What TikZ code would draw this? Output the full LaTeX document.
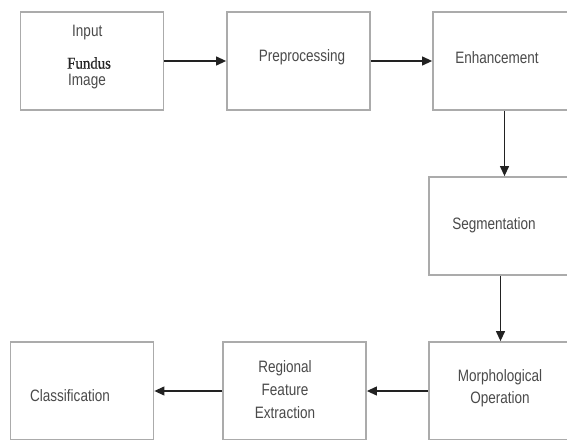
\documentclass[tikz,border=0pt]{standalone}
\usepackage{fontspec}
\setmainfont{Liberation Sans}[FakeStretch=0.82]
\newfontfamily\serifnarrow{Liberation Serif}[FakeStretch=0.9,FakeBold=0.6]
\usetikzlibrary{arrows.meta}
\definecolor{boxgray}{HTML}{ABABAB}
\definecolor{txtgray}{HTML}{4A4A4A}
\definecolor{arrowc}{HTML}{222222}
\begin{document}
\begin{tikzpicture}[x=1pt,y=-1pt,
  blk/.style={draw=boxgray,line width=1.8pt,fill=white,minimum width=143pt,minimum height=98pt,inner sep=0pt},
  lbl/.style={text=txtgray,font=\fontsize{16.5}{22.5}\selectfont,inner sep=0pt,align=center},
  conn/.style={draw=arrowc,line width=1.2pt,-{Triangle[length=10pt,width=9pt]}}]
\fill[white] (0,0) rectangle (567,439);
\useasboundingbox (0,0) rectangle (567,439);
\begin{scope}
\clip (0,0) rectangle (567,439);
\node[blk] (in)  at (92,61) {};
\node[blk] (pre) at (298.5,61) {};
\node[blk] (enh) at (504.5,61) {};
\node[blk] (seg) at (500.5,226) {};
\node[blk] (mor) at (500.5,391) {};
\node[blk] (reg) at (294.5,391) {};
\node[blk] (cls) at (82,391) {};
\end{scope}
% labels
\node[lbl,anchor=west] (tin) at (72,33) {Input};
\node[lbl,anchor=west,text=black!85] (tfu) at (67,63) {\serifnarrow\fontsize{16.5}{18}\selectfont Fundus};
\node[lbl,anchor=west] (tim) at (68,82) {Image};
\node[lbl] (tpre) at (302,57) {Preprocessing};
\node[lbl] (tenh) at (497,58) {Enhancement};
\node[lbl] (tseg) at (494,225) {Segmentation};
\node[lbl] (tmor) at (500,388) {Morphological\\Operation};
\node[lbl,font=\fontsize{16.5}{23}\selectfont] (treg) at (285,390) {Regional\\Feature\\Extraction};
\node[lbl] (tcls) at (70,396) {Classification};
% connectors
\draw[conn] (in.east) -- (pre.west);
\draw[conn] (pre.east) -- (enh.west);
\draw[conn] (enh.south) -- (enh.south |- seg.north);
\draw[conn] (seg.south) -- (mor.north);
\draw[conn] (mor.west) -- (reg.east);
\draw[conn] (reg.west) -- (cls.east);
\end{tikzpicture}
\end{document}
